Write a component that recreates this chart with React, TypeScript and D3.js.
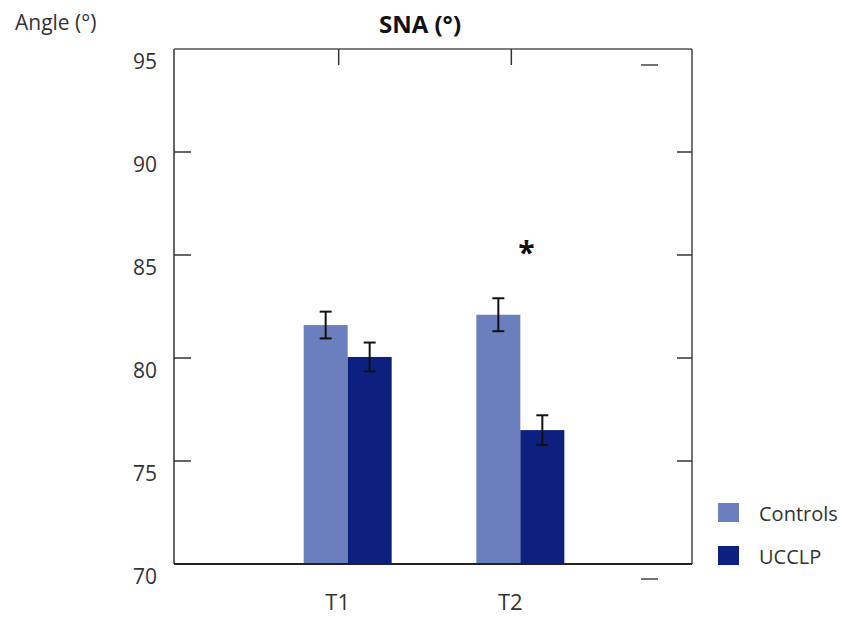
import React from 'react';
import * as d3 from 'd3';

// SNA angle, means and SE
const categories = ['T1', 'T2'];
const seriesNames = ['Controls', 'UCCLP'];
const controls = [81.6, 82.1];
const ucclp = [80.05, 76.5];
const controlsErr = [0.65, 0.8];
const ucclpErr = [0.7, 0.72];
const yTicks = [70, 75, 80, 85, 90, 95];
const starCategory = 'T2';
const starValue = 85.4;

const colors = ['#6b7fbf', '#0d1f7f'];
const font = '"Open Sans", "DejaVu Sans", sans-serif';

const left = 174;
const right = 692;
const top = 49;
const bottom = 564;

export default function App() {
  const y = d3.scaleLinear().domain([70, 95]).range([bottom, top]);
  const x = d3.scaleLinear().domain([0, 3]).range([175, 693]);
  const barW = 44;
  const catPos = (c: string) => categories.indexOf(c) + 1;
  const values = [controls, ucclp];
  const errs = [controlsErr, ucclpErr];
  const axisColor = '#333';

  return (
    <svg width={845} height={621} style={{ position: 'absolute', left: 0, top: 0 }} fontFamily={font}>
      <rect width={845} height={621} fill="#fff" />

      {/* title and y label */}
      <text x={420} y={33} textAnchor="middle" fontSize={24} fontWeight="bold" fill="#111">SNA (°)</text>
      <text x={15} y={30} fontSize={21} fill="#333">Angle (°)</text>

      {/* bars */}
      {seriesNames.map((s, si) =>
        categories.map((c, ci) => {
          const x0 = x(catPos(c)) - barW + si * barW;
          const v = values[si][ci];
          return (
            <rect key={s + c} x={x0} y={y(v)} width={barW} height={y(70) - y(v)} fill={colors[si]} />
          );
        })
      )}

      {/* error bars */}
      {seriesNames.map((s, si) =>
        categories.map((c, ci) => {
          const cx = x(catPos(c)) - barW / 2 + si * barW;
          const v = values[si][ci];
          const e = errs[si][ci];
          return (
            <g key={'e' + s + c} stroke="#111" strokeWidth={2}>
              <line x1={cx} x2={cx} y1={y(v + e)} y2={y(v - e)} />
              <line x1={cx - 6} x2={cx + 6} y1={y(v + e)} y2={y(v + e)} />
              <line x1={cx - 6} x2={cx + 6} y1={y(v - e)} y2={y(v - e)} />
            </g>
          );
        })
      )}

      {/* frame */}
      <line x1={left} x2={right} y1={top} y2={top} stroke="#555" strokeWidth={1.5} />
      <line x1={right} x2={right} y1={top} y2={bottom} stroke="#444" strokeWidth={1.5} />
      <line x1={left} x2={left} y1={top} y2={bottom} stroke={axisColor} strokeWidth={1.5} />
      <line x1={left} x2={right} y1={bottom} y2={bottom} stroke="#222" strokeWidth={2} />

      {/* y ticks and labels */}
      {yTicks.map((t) => (
        <g key={t}>
          {t > 70 && t < 95 && (
            <>
              <line x1={left} x2={left + 17} y1={y(t)} y2={y(t)} stroke={axisColor} strokeWidth={1.5} />
              <line x1={right - 15} x2={right} y1={y(t)} y2={y(t)} stroke={axisColor} strokeWidth={1.5} />
            </>
          )}
          {(t === 70 || t === 95) && (
            <line x1={right - 51} x2={right - 34} y1={y(t) + (t === 95 ? 16 : 15)} y2={y(t) + (t === 95 ? 16 : 15)} stroke="#444" strokeWidth={1.5} />
          )}
          <text x={157} y={y(t) + 13} dy="0.35em" textAnchor="end" fontSize={21} fill="#333">{t}</text>
        </g>
      ))}

      {/* category ticks on top, labels below */}
      {categories.map((c) => (
        <g key={c}>
          <line x1={x(catPos(c)) - 9} x2={x(catPos(c)) - 9} y1={top} y2={top + 16} stroke={axisColor} strokeWidth={1.5} />
          <text x={x(catPos(c)) - 10} y={610} textAnchor="middle" fontSize={22} fill="#333">{c}</text>
        </g>
      ))}

      {/* significance */}
      <text x={x(catPos(starCategory)) + 6} y={y(starValue) + 16} textAnchor="middle" fontSize={30} fontWeight="bold" fill="#111">*</text>

      {/* legend */}
      {seriesNames.map((s, i) => (
        <g key={'l' + s} transform={`translate(718, ${503 + i * 43})`}>
          <rect width={21} height={19} fill={colors[i]} />
          <text x={41} y={18} fontSize={20} fill="#333">{s}</text>
        </g>
      ))}
    </svg>
  );
}
